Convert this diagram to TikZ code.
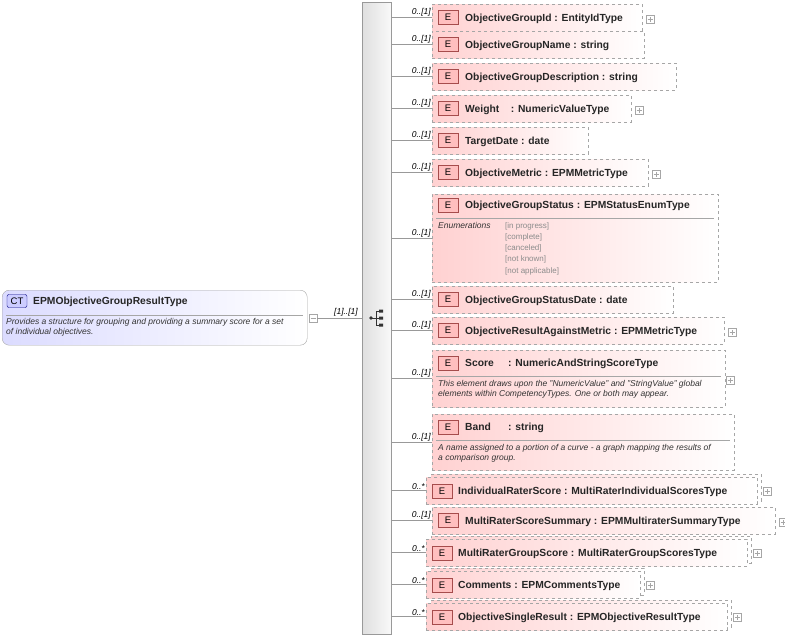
\documentclass[tikz,border=0pt]{standalone}
\usepackage{fontspec}
\setmainfont{Liberation Sans}
\begin{document}
\begin{tikzpicture}[x=1pt,y=-1pt,
 ebox/.style={draw=gray!70,dashed,left color=red!18,right color=white,rectangle,inner sep=0,anchor=north west},
 badge/.style={draw=red!50!black!70,fill=red!25,minimum width=20pt,minimum height=14pt,inner sep=0,font=\fontsize{9.5}{10}\selectfont},
 etxt/.style={anchor=west,font=\bfseries\fontsize{10.3}{11}\selectfont,inner sep=0,text=black!85,yshift=-1.5pt},
 mult/.style={anchor=south east,font=\itshape\fontsize{8.5}{9}\selectfont,inner sep=1pt},
 plus/.style={draw=gray!70,minimum size=8pt,inner sep=0},
 desc/.style={anchor=north west,font=\itshape\fontsize{8.5}{10.5}\selectfont,inner sep=0,align=left,text=black!80},
 conn/.style={gray!80,line width=0.6pt}]
\useasboundingbox (0,0) rectangle (785,638);
\newcommand\plusmark[1]{\draw[gray!70] ([xshift=-2.5pt]#1.center)--([xshift=2.5pt]#1.center) ([yshift=-2.5pt]#1.center)--([yshift=2.5pt]#1.center);}
% sequence bar
\node[draw=gray!80,left color=gray!25,right color=gray!5,minimum width=29pt,minimum height=632pt,inner sep=0,anchor=north west] (bar) at (362,2) {};
% sequence icon
\node[inner sep=0,minimum size=10pt] (seq) at (377,318) {};
\fill[black!80] (371,318) circle (1.8);
\draw[black!80,line width=0.8pt] (371,318)--(376,318) (376,311)--(376,325) (376,311)--(379,311) (376,318)--(379,318) (376,325)--(379,325);
\fill[black!80] (379,309.5) rectangle (383,312.5) (379,316.5) rectangle (383,319.5) (379,323.5) rectangle (383,326.5);
% CT box
\node[draw=gray!70,rounded corners=7pt,left color=blue!14,right color=white,minimum width=305pt,minimum height=55pt,inner sep=0,anchor=north west] (ct) at (2,290) {};
\node[draw=blue!50!black,fill=blue!20,rounded corners=2pt,minimum width=20pt,minimum height=13pt,inner sep=0,font=\fontsize{9.5}{10}\selectfont] (ctb) at (17,301) {CT};
\node[etxt] (ctn) at (33,300) {EPMObjectiveGroupResultType};
\draw[gray!70] (6,315)--(303,315);
\node[desc] (ctd) at (6,318) {Provides a structure for grouping and providing a summary score for a set\\of individual objectives.};
\node[draw=gray!70,minimum size=8pt,inner sep=0] (ctm) at (313,318) {};
\draw[gray!70] (310.5,318)--(315.5,318);
\draw[conn] (ctm.east)--(bar.west|-ctm.east);
\node[mult] at (359,317) {[1]..[1]};
% simple elements
\newcommand\elm[6]{% name, y(top), right, text, mult, plus
 \node[ebox,minimum width={#3-432},minimum height=27pt] (#1) at (432,#2) {};
 \node[badge] (#1b) at (448,#2+13.5) {E};
 \node[etxt] (#1t) at (465,#2+13) {#4};
 \draw[conn] (bar.east|-#1.west)--(#1.west);
 \node[mult] at (#1.west) {#5};
 \ifx#6y\node[plus] (#1p) at (#3+8,#2+15) {};\plusmark{#1p}\fi}
\newcommand\stk[6]{%
 \node[ebox,minimum width={#3-431},minimum height=27pt] (#1x) at (431,#2-3) {};
 \node[ebox,minimum width={#3-430},minimum height=27pt] (#1) at (426,#2) {};
 \node[badge] (#1b) at (442,#2+14) {E};
 \node[etxt] (#1t) at (458,#2+13.5) {#4};
 \draw[conn] (bar.east|-#1.west)--(#1.west);
 \node[mult] at (#1.west) {#5};
 \ifx#6y\node[plus] (#1p) at (#3+6,#2+14) {};\plusmark{#1p}\fi}
\elm{a}{4}{642}{ObjectiveGroupId : EntityIdType}{0..[1]}{y}
\elm{b}{31}{644}{ObjectiveGroupName : string}{0..[1]}{n}
\elm{c}{63}{676}{ObjectiveGroupDescription : string}{0..[1]}{n}
\elm{d}{95}{631}{Weight\ \ \ \ : NumericValueType}{0..[1]}{y}
\elm{e}{127}{588}{TargetDate : date}{0..[1]}{n}
\elm{f}{159}{648}{ObjectiveMetric : EPMMetricType}{0..[1]}{y}
% status
\node[ebox,minimum width=286pt,minimum height=88pt] (g) at (432,194) {};
\node[badge] (gb) at (448,205) {E};
\node[etxt] (gt) at (465,204) {ObjectiveGroupStatus : EPMStatusEnumType};
\draw[gray!70] (436,218)--(714,218);
\node[desc] (ge) at (438,222) {Enumerations};
\node[desc,text=gray!90,font=\fontsize{8}{11.3}\selectfont] (gv) at (505,222) {{[in progress]}\\{[complete]}\\{[canceled]}\\{[not known]}\\{[not applicable]}};
\draw[conn] (bar.east|-g.west)--(g.west);
\node[mult] at (g.west) {0..[1]};
\elm{h}{286}{673}{ObjectiveGroupStatusDate : date}{0..[1]}{n}
\elm{i}{317}{724}{ObjectiveResultAgainstMetric : EPMMetricType}{0..[1]}{y}
% score
\node[ebox,minimum width=293pt,minimum height=57pt] (j) at (432,350) {};
\node[badge] (jb) at (448,363) {E};
\node[etxt] (jt) at (465,362) {Score\ \ \ \ \ : NumericAndStringScoreType};
\draw[gray!70] (436,376)--(721,376);
\node[desc] (jd) at (438,380) {This element draws upon the "NumericValue" and "StringValue" global\\elements within CompetencyTypes. One or both may appear.};
\draw[conn] (bar.east|-j.west)--(j.west);
\node[mult] at (j.west) {0..[1]};
\node[plus] (jp) at (730,380) {};\plusmark{jp}
% band
\node[ebox,minimum width=302pt,minimum height=56pt] (k) at (432,414) {};
\node[badge] (kb) at (448,427) {E};
\node[etxt] (kt) at (465,426) {Band\ \ \ \ \ \ : string};
\draw[gray!70] (436,440)--(730,440);
\node[desc] (kd) at (438,444) {A name assigned to a portion of a curve - a graph mapping the results of\\a comparison group.};
\draw[conn] (bar.east|-k.west)--(k.west);
\node[mult] at (k.west) {0..[1]};
\stk{l}{477}{761}{IndividualRaterScore : MultiRaterIndividualScoresType}{0..*}{y}
\elm{m}{507}{775}{MultiRaterScoreSummary : EPMMultiraterSummaryType}{0..[1]}{y}
\stk{n}{539}{751}{MultiRaterGroupScore : MultiRaterGroupScoresType}{0..*}{y}
\stk{o}{571}{644}{Comments : EPMCommentsType}{0..*}{y}
\stk{p}{603}{731}{ObjectiveSingleResult : EPMObjectiveResultType}{0..*}{y}
\end{tikzpicture}
\end{document}
